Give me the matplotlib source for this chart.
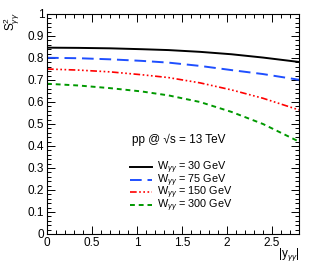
import matplotlib
matplotlib.use('Agg')
import matplotlib.pyplot as plt
from matplotlib.ticker import MultipleLocator

plt.rcParams['font.family'] = ['Liberation Sans', 'DejaVu Sans']
plt.rcParams['mathtext.fontset'] = 'custom'
plt.rcParams['mathtext.rm'] = 'Liberation Sans'
plt.rcParams['mathtext.it'] = 'Liberation Sans:italic'

# values
y_gg = [0.0, 0.35, 0.7, 1.05, 1.35, 1.7, 2.05, 2.4, 2.8]
s2_30 = [0.847, 0.846, 0.844, 0.840, 0.836, 0.828, 0.817, 0.802, 0.782]
s2_75 = [0.801, 0.799, 0.794, 0.787, 0.779, 0.764, 0.745, 0.727, 0.701]
s2_150 = [0.750, 0.745, 0.737, 0.724, 0.711, 0.687, 0.655, 0.617, 0.564]
s2_300 = [0.683, 0.675, 0.663, 0.648, 0.630, 0.600, 0.555, 0.500, 0.420]
labels = [r'W$_{\gamma\gamma}$ = 30 GeV', r'W$_{\gamma\gamma}$ = 75 GeV',
          r'W$_{\gamma\gamma}$ = 150 GeV', r'W$_{\gamma\gamma}$ = 300 GeV']
xticks = [0, 0.5, 1, 1.5, 2, 2.5]
xticklabels = ['0', '0.5', '1', '1.5', '2', '2.5']
yticks = [0, 0.1, 0.2, 0.3, 0.4, 0.5, 0.6, 0.7, 0.8, 0.9, 1.0]
yticklabels = ['0', '0.1', '0.2', '0.3', '0.4', '0.5', '0.6', '0.7', '0.8', '0.9', '1']

fig = plt.figure(figsize=(3.15, 2.66), dpi=100)
ax = fig.add_axes([47/315, 1 - 234/266, 252/315, 220/266])

ax.plot(y_gg, s2_30, color='black', lw=1.4, ls='-', label=labels[0])
ax.plot(y_gg, s2_75, color='#1f4fff', lw=1.4, ls=(0, (6, 3)), label=labels[1])
ax.plot(y_gg, s2_150, color='red', lw=1.2,
        ls=(0, (4, 1.5, 1, 1.5, 1, 1.5, 1, 1.5)), label=labels[2])
ax.plot(y_gg, s2_300, color='#009900', lw=1.4, ls=(0, (2.5, 2)), label=labels[3])

ax.set_xticks(xticks)
ax.set_xticklabels(xticklabels)
ax.set_yticks(yticks)
ax.set_yticklabels(yticklabels)
ax.xaxis.set_minor_locator(MultipleLocator(0.1))
ax.yaxis.set_minor_locator(MultipleLocator(0.02))
ax.set_xlim(0, 2.8)
ax.set_ylim(0, 1)
ax.tick_params(which='both', direction='in', top=True, right=True,
               labelsize=8.5, width=0.7, pad=2)
ax.tick_params(which='major', length=6)
ax.tick_params(which='minor', length=3)
for s in ax.spines.values():
    s.set_linewidth(0.8)

fig.text(12/315, 1 - 12/266, r'S$^2_{\gamma\gamma}$', rotation=90,
         ha='center', va='top', fontsize=8.5)
fig.text(300/315, 1 - 263/266, r'|y$_{\gamma\gamma}$|', ha='right', va='bottom',
         fontsize=8.5)
ax.text((132 - 47)/252, 0.43, 'pp @ √s = 13 TeV', transform=ax.transAxes,
        fontsize=8.5, ha='left', va='center')

ax.legend(loc='upper left', bbox_to_anchor=(0.329, 0.337), frameon=False,
          fontsize=7.8, handlelength=2.0, handletextpad=0.5, handleheight=0.5,
          labelspacing=-0.35, borderaxespad=0, borderpad=0)

fig.savefig('out.png', dpi=100)
